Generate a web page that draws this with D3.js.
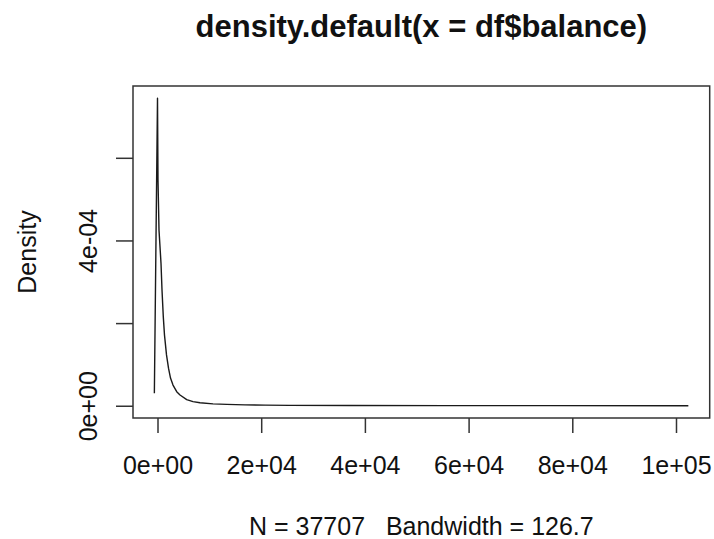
<!DOCTYPE html>
<html>
<head>
<meta charset="utf-8">
<script src="https://cdn.jsdelivr.net/npm/d3@7"></script>
<style>
  html, body { margin: 0; padding: 0; background: #fff; }
  svg { display: block; }
  text { font-family: "Liberation Sans", Arial, Helvetica, sans-serif; fill: #111; white-space: pre; }
</style>
</head>
<body>
<svg id="chart" width="714" height="539"></svg>
<script>
// Kernel density estimate of account balance (N = 37707, bw = 126.7)
const balance = [-606, 0, 96, 289, 675, 868, 1119, 1350, 1736, 2122, 2508, 2990, 3704,
  4340, 5633, 6848, 8198, 10706, 13349, 16879, 20737, 25560, 37135, 56000, 75700, 102381];
const density = [3.0e-5, 7.44e-4, 5.46e-4, 4.25e-4, 3.45e-4, 2.80e-4, 2.15e-4, 1.71e-4,
  1.23e-4, 9.1e-5, 6.7e-5, 5.0e-5, 3.4e-5, 2.6e-5, 1.5e-5, 1.0e-5, 7.3e-6, 4.6e-6,
  3.4e-6, 2.2e-6, 1.5e-6, 1.0e-6, 5e-7, 3e-7, 2e-7, 1e-7];

const xTicks = [0, 20000, 40000, 60000, 80000, 100000];
const xTickLabels = ["0e+00", "2e+04", "4e+04", "6e+04", "8e+04", "1e+05"];
const yTicks = [0, 2e-4, 4e-4, 6e-4];
const yTickLabels = ["0e+00", "", "4e-04", ""];

const titleText = "density.default(x = df$balance)";
const xLabelText = "N = 37707   Bandwidth = 126.7";
const yLabelText = "Density";

// plot region
const plotLeft = 133, plotRight = 709.7, plotTop = 86, plotBottom = 418;

// R-style 4% axis expansion
function expand(ext) {
  const d = (ext[1] - ext[0]) * 0.04;
  return [ext[0] - d, ext[1] + d];
}
const xDom = expand(d3.extent(balance));
const yDom = expand(d3.extent(density));

const x = d3.scaleLinear().domain(xDom).range([plotLeft, plotRight]);
const y = d3.scaleLinear().domain(yDom).range([plotBottom, plotTop]);

const svg = d3.select("#chart");
const ink = "#1a1a1a";

// density curve
const pts = balance.map((b, i) => [b, density[i]]);
svg.append("path")
  .datum(pts)
  .attr("fill", "none")
  .attr("stroke", ink)
  .attr("stroke-width", 1.4)
  .attr("stroke-linejoin", "round")
  .attr("d", d3.line().x(d => x(d[0])).y(d => y(d[1])).curve(d3.curveLinear));

// box
svg.append("rect")
  .attr("x", plotLeft).attr("y", plotTop)
  .attr("width", plotRight - plotLeft).attr("height", plotBottom - plotTop)
  .attr("fill", "none").attr("stroke", "#333").attr("stroke-width", 1.5);

// x axis
const xAxis = d3.axisBottom(x)
  .tickValues(xTicks)
  .tickSize(15)
  .tickFormat((d, i) => xTickLabels[i]);
const gx = svg.append("g").attr("transform", `translate(0,${plotBottom})`).call(xAxis);
gx.select(".domain").remove();
gx.selectAll(".tick line").attr("stroke", "#333").attr("stroke-width", 1.5);
gx.selectAll(".tick text")
  .attr("font-size", 25).attr("fill", ink)
  .attr("font-family", "Liberation Sans, Arial, sans-serif")
  .attr("dy", null).attr("y", 56.3);

// y axis
const yAxis = d3.axisLeft(y)
  .tickValues(yTicks)
  .tickSize(17)
  .tickFormat((d, i) => yTickLabels[i]);
const gy = svg.append("g").attr("transform", `translate(${plotLeft},0)`).call(yAxis);
gy.select(".domain").remove();
gy.selectAll(".tick line").attr("stroke", "#333").attr("stroke-width", 1.5);
gy.selectAll(".tick text")
  .attr("font-size", 25).attr("fill", ink)
  .attr("font-family", "Liberation Sans, Arial, sans-serif")
  .attr("x", null).attr("dy", null)
  .attr("text-anchor", "middle")
  .attr("transform", `translate(${96.7 - plotLeft},0) rotate(-90)`);

// title and axis labels
const cx = (plotLeft + plotRight) / 2;
svg.append("text")
  .attr("x", cx).attr("y", 37)
  .attr("text-anchor", "middle")
  .attr("font-size", 31).attr("font-weight", "bold")
  .attr("fill", ink)
  .text(titleText);

svg.append("text")
  .attr("x", cx).attr("y", 535)
  .attr("text-anchor", "middle")
  .attr("font-size", 25).attr("fill", ink)
  .text(xLabelText);

svg.append("text")
  .attr("transform", `translate(36,${(plotTop + plotBottom) / 2}) rotate(-90)`)
  .attr("text-anchor", "middle")
  .attr("font-size", 25).attr("fill", ink)
  .text(yLabelText);
</script>
</body>
</html>
